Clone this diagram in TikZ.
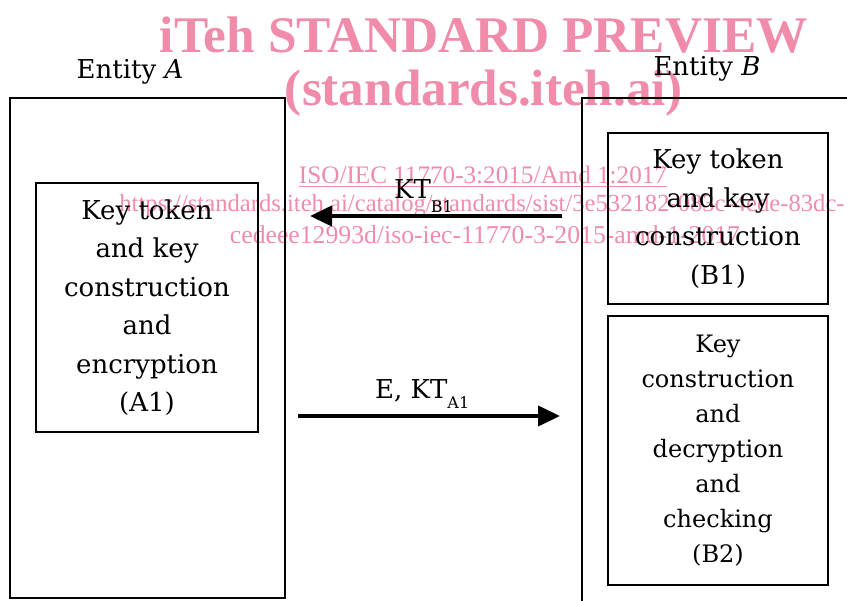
\documentclass[tikz,border=0pt]{standalone}
\usepackage{fontspec}
\usepackage{graphicx}
\setmainfont{DejaVu Serif}
\newfontfamily\wmfont{Liberation Serif}
\usetikzlibrary{arrows.meta}
\definecolor{wmpink}{RGB}{240,140,170}
\begin{document}
\begin{tikzpicture}[x=1pt,y=-1pt,
  outerbox/.style={draw,line width=2.6pt,inner sep=0pt},
  innerbox/.style={draw,line width=2.6pt,inner sep=0pt,align=center,
    font=\fontsize{26}{38.5}\selectfont},
  lbl/.style={inner sep=0pt,font=\fontsize{26}{30}\selectfont},
  conn/.style={line width=4pt,-{Triangle[length=22pt,width=20pt]}},
  wm/.style={inner sep=0pt,text=wmpink}]
\useasboundingbox (0,0) rectangle (847,601);
\clip (0,0) rectangle (847,601);
% watermark
\node[wm] (w1) at (484,35) {\resizebox{648pt}{!}{\wmfont\bfseries iTeh STANDARD PREVIEW}};
\node[wm] (w2) at (484,93) {\resizebox{398pt}{!}{\wmfont\bfseries (standards.iteh.ai)}};
\node[wm] (w3) at (483,177) {\resizebox{368pt}{!}{\wmfont\underline{ISO/IEC 11770-3:2015/Amd 1:2017}}};
\node[wm] (w4) at (482,206) {\resizebox{725pt}{!}{\wmfont https://standards.iteh.ai/catalog/standards/sist/3e532182-083c-4ede-83dc-}};
\node[wm] (w5) at (485,235) {\resizebox{510pt}{!}{\wmfont cedeee12993d/iso-iec-11770-3-2015-amd-1-2017}};
% entities
\node[outerbox,minimum width=275pt,minimum height=500pt] (A) at (147.5,348) {};
\node[outerbox,minimum width=300pt,minimum height=540pt] (B) at (732,368) {};
\node[lbl] (Alabel) at (130,72) {Entity \textit{A}};
\node[lbl] (Blabel) at (707,69) {Entity \textit{B}};
% inner boxes
\node[innerbox,minimum width=222pt,minimum height=249pt] (A1) at (147,307.5)
  {Key token\\and key\\construction\\and\\encryption\\(A1)};
\node[innerbox,minimum width=220pt,minimum height=171pt] (B1) at (718,218.5)
  {Key token\\and key\\construction\\(B1)};
\node[innerbox,minimum width=220pt,minimum height=269pt,
  font=\fontsize{24}{35}\selectfont] (B2) at (718,450.5)
  {Key\\construction\\and\\decryption\\and\\checking\\(B2)};
% messages
\coordinate (kbs) at (562,216);
\coordinate (kbe) at (310,216);
\draw[conn] (kbs) -- (kbe);
\node[lbl,anchor=base west] (kbl) at (394,199) {KT\raisebox{-14pt}{\fontsize{16}{18}\selectfont B1}};
\coordinate (eks) at (298,416);
\coordinate (eke) at (560,416);
\draw[conn] (eks) -- (eke);
\node[lbl,anchor=base west] (ekl) at (375,399) {E, KT\raisebox{-10pt}{\fontsize{16}{18}\selectfont A1}};
\end{tikzpicture}
\end{document}
